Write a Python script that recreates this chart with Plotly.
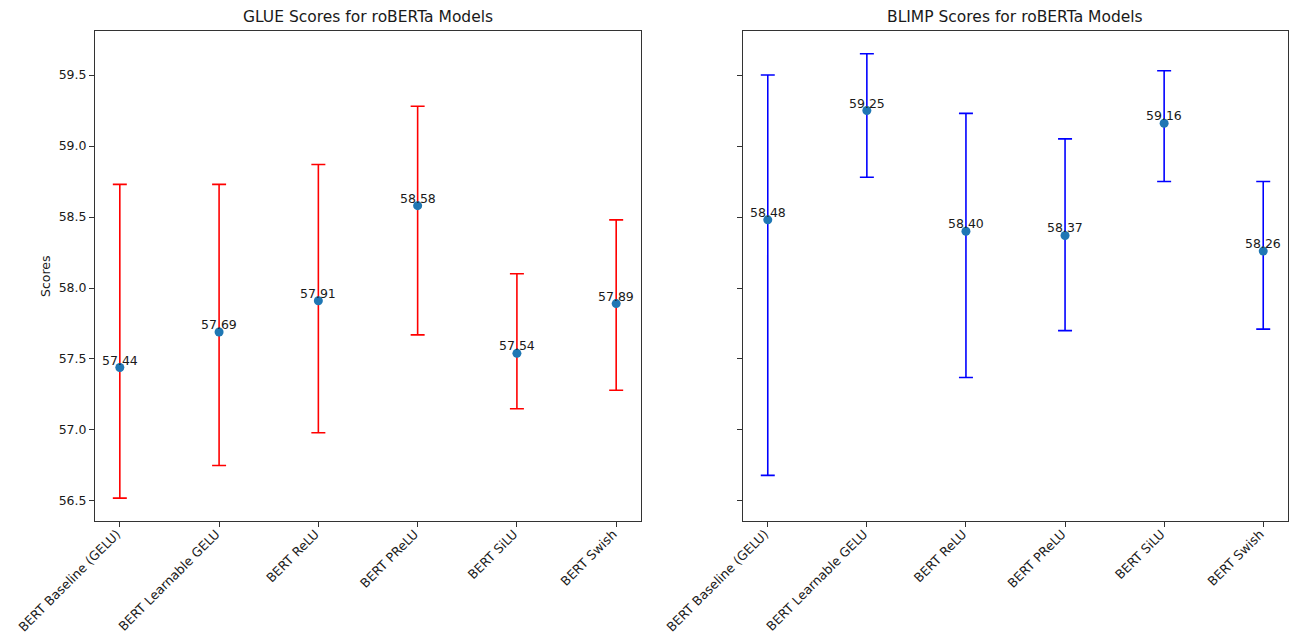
import plotly.graph_objects as go

models = ["BERT Baseline (GELU)", "BERT Learnable GELU", "BERT ReLU", "BERT PReLU", "BERT SiLU", "BERT Swish"]

glue_mean = [57.44, 57.69, 57.91, 58.58, 57.54, 57.89]
glue_low = [56.52, 56.75, 56.98, 57.67, 57.15, 57.28]
glue_high = [58.73, 58.73, 58.87, 59.28, 58.10, 58.48]

blimp_mean = [58.48, 59.25, 58.40, 58.37, 59.16, 58.26]
blimp_low = [56.68, 58.78, 57.37, 57.70, 58.75, 57.71]
blimp_high = [59.50, 59.65, 59.23, 59.05, 59.53, 58.75]

W, H = 1289, 640
FONT = "DejaVu Sans"
TXT = "#1a1a1a"
FS = 12.5
XFS = 12.7
TFS = 15.5

fig = go.Figure()

def add_panel(mean, low, high, color, xa, ya):
    fig.add_trace(go.Scatter(
        x=list(range(len(models))), y=mean, mode="markers",
        marker=dict(color="#1f77b4", size=9),
        error_y=dict(type="data", symmetric=False,
                     array=[h - m for h, m in zip(high, mean)],
                     arrayminus=[m - l for m, l in zip(mean, low)],
                     color=color, thickness=1.6, width=7),
        xaxis=xa, yaxis=ya, showlegend=False, hoverinfo="skip"))
    for i, v in enumerate(mean):
        fig.add_annotation(x=i, y=v, xref=xa, yref=ya, text=f"{v:.2f}",
                           showarrow=False, yanchor="bottom", xanchor="center",
                           yshift=-2, font=dict(family=FONT, size=FS, color=TXT))

add_panel(glue_mean, glue_low, glue_high, "#ff0000", "x", "y")
add_panel(blimp_mean, blimp_low, blimp_high, "#0000ff", "x2", "y2")

ydom = [1 - 520.7 / H, 1 - 31.3 / H]
yrange = [56.361, 59.808]
xcommon = dict(range=[-0.25, 5.25], tickmode="array", tickvals=list(range(6)), ticktext=models,
               tickangle=-45, ticks="outside", ticklen=5, tickcolor="#333", showline=True,
               linecolor="#333", linewidth=1, mirror=True, showgrid=False, zeroline=False,
               ticklabelstandoff=-5, ticklabelshift=-3,
               tickfont=dict(family=FONT, size=XFS, color=TXT), automargin=False)
ycommon = dict(range=yrange, domain=ydom, tickmode="array",
               tickvals=[56.5, 57.0, 57.5, 58.0, 58.5, 59.0, 59.5],
               ticktext=["56.5", "57.0", "57.5", "58.0", "58.5", "59.0", "59.5"],
               ticks="outside", ticklen=5, tickcolor="#333", showline=True, linecolor="#333",
               linewidth=1, mirror=True, showgrid=False, zeroline=False,
               tickfont=dict(family=FONT, size=FS, color=TXT), automargin=False)

fig.update_layout(
    width=W, height=H, margin=dict(l=0, r=0, t=0, b=0),
    paper_bgcolor="white", plot_bgcolor="white",
    xaxis=dict(domain=[95 / W, 641 / W], anchor="y", **xcommon),
    xaxis2=dict(domain=[743 / W, 1288 / W], anchor="y2", **xcommon),
    yaxis=dict(anchor="x", **ycommon),
    yaxis2=dict(anchor="x2", showticklabels=False, **ycommon),
)

fig.add_annotation(x=(95 + 641) / 2 / W, y=ydom[1], xref="paper", yref="paper",
                   text="GLUE Scores for roBERTa Models", showarrow=False,
                   yanchor="bottom", xanchor="center", yshift=3,
                   font=dict(family=FONT, size=TFS, color=TXT))
fig.add_annotation(x=(743 + 1288) / 2 / W, y=ydom[1], xref="paper", yref="paper",
                   text="BLIMP Scores for roBERTa Models", showarrow=False,
                   yanchor="bottom", xanchor="center", yshift=3,
                   font=dict(family=FONT, size=TFS, color=TXT))
fig.add_annotation(x=45 / W, y=(ydom[0] + ydom[1]) / 2, xref="paper", yref="paper",
                   text="Scores", showarrow=False, textangle=-90,
                   xanchor="center", yanchor="middle",
                   font=dict(family=FONT, size=FS, color=TXT))

fig.write_html("out.html", config={"displayModeBar": False},
               post_script="document.body.style.margin='0';")
